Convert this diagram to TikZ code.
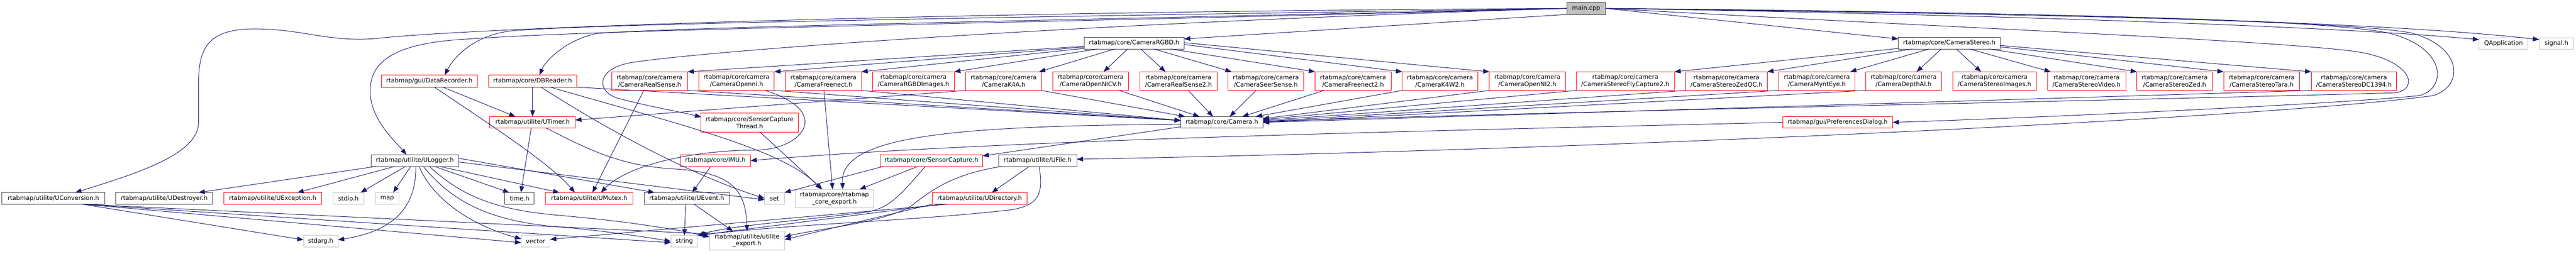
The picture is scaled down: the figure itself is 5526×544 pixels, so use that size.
\documentclass[tikz,border=0pt]{standalone}
\usepackage{fontspec}
\setmainfont{DejaVu Sans}
\usetikzlibrary{arrows.meta,calc}
\definecolor{edgec}{HTML}{191970}
\definecolor{redc}{HTML}{FF0000}
\definecolor{darkc}{HTML}{404040}
\definecolor{lightc}{HTML}{BFBFBF}
\newcommand\bx[7]{\node[#6, minimum width={(#4-#2)*0.75pt}, minimum height={(#5-#3)*0.75pt}] (#1) at ({(#2+#4)/2},{(#3+#5)/2}) {#7};}
\begin{document}
\begin{tikzpicture}[x=0.75pt,y=-0.75pt,
  base/.style={draw, rectangle, inner sep=0pt, outer sep=0pt, align=center, font=\fontsize{9.75}{11.1}\selectfont, line width=0.8pt},
  redbox/.style={base, draw=redc},
  darkbox/.style={base, draw=darkc},
  extbox/.style={base, draw=lightc},
  mainbox/.style={base, draw=darkc, fill=lightc},
  edge/.style={draw=edgec, line width=0.8pt, -{Triangle[length=10pt,width=7.5pt]}}]
\useasboundingbox (0,0) rectangle (5526,544);
% nodes
\bx{main}{3361}{5}{3444}{31}{mainbox}{main.cpp}
\bx{rgbd}{2326}{80}{2540}{105}{darkbox}{rtabmap/core/CameraRGBD.h}
\bx{stereo}{4072}{80}{4291}{105}{darkbox}{rtabmap/core/CameraStereo.h}
\bx{qapp}{5318}{81}{5423}{105}{extbox}{QApplication}
\bx{signal}{5447}{81}{5521}{105}{extbox}{signal.h}
\bx{datarec}{818}{161}{1024}{187}{redbox}{rtabmap/gui/DataRecorder.h}
\bx{dbreader}{1048}{161}{1237}{187}{redbox}{rtabmap/core/DBReader.h}
\bx{rs}{1312}{154}{1475}{194}{redbox}{rtabmap/core/camera\\/CameraRealSense.h}
\bx{openni}{1499}{154}{1661}{194}{redbox}{rtabmap/core/camera\\/CameraOpenni.h}
\bx{freenect}{1685}{154}{1848}{194}{redbox}{rtabmap/core/camera\\/CameraFreenect.h}
\bx{rgbdimg}{1872}{154}{2047}{194}{redbox}{rtabmap/core/camera\\/CameraRGBDImages.h}
\bx{k4a}{2072}{154}{2234}{194}{redbox}{rtabmap/core/camera\\/CameraK4A.h}
\bx{opennicv}{2258}{154}{2421}{194}{redbox}{rtabmap/core/camera\\/CameraOpenNICV.h}
\bx{rs2}{2445}{154}{2611}{194}{redbox}{rtabmap/core/camera\\/CameraRealSense2.h}
\bx{seer}{2634}{154}{2797}{194}{redbox}{rtabmap/core/camera\\/CameraSeerSense.h}
\bx{freenect2}{2821}{154}{2984}{194}{redbox}{rtabmap/core/camera\\/CameraFreenect2.h}
\bx{k4w2}{3008}{154}{3170}{194}{redbox}{rtabmap/core/camera\\/CameraK4W2.h}
\bx{openni2}{3195}{154}{3358}{194}{redbox}{rtabmap/core/camera\\/CameraOpenNI2.h}
\bx{fly}{3381}{154}{3592}{194}{redbox}{rtabmap/core/camera\\/CameraStereoFlyCapture2.h}
\bx{zedoc}{3616}{154}{3791}{194}{redbox}{rtabmap/core/camera\\/CameraStereoZedOC.h}
\bx{mynt}{3816}{154}{3979}{194}{redbox}{rtabmap/core/camera\\/CameraMyntEye.h}
\bx{depthai}{4002}{154}{4165}{194}{redbox}{rtabmap/core/camera\\/CameraDepthAI.h}
\bx{stimg}{4189}{154}{4368}{194}{redbox}{rtabmap/core/camera\\/CameraStereoImages.h}
\bx{stvid}{4392}{154}{4560}{194}{redbox}{rtabmap/core/camera\\/CameraStereoVideo.h}
\bx{stzed}{4584}{154}{4746}{194}{redbox}{rtabmap/core/camera\\/CameraStereoZed.h}
\bx{tara}{4770}{154}{4933}{194}{redbox}{rtabmap/core/camera\\/CameraStereoTara.h}
\bx{dc1394}{4958}{154}{5141}{194}{redbox}{rtabmap/core/camera\\/CameraStereoDC1394.h}
\bx{utimer}{1051}{250}{1234}{275}{redbox}{rtabmap/utilite/UTimer.h}
\bx{sct}{1504}{243}{1712}{283}{redbox}{rtabmap/core/SensorCapture\\Thread.h}
\bx{camera}{2533}{250}{2709}{275}{darkbox}{rtabmap/core/Camera.h}
\bx{prefs}{3824}{250}{4060}{275}{redbox}{rtabmap/gui/PreferencesDialog.h}
\bx{ulogger}{796}{332}{984}{357}{darkbox}{rtabmap/utilite/ULogger.h}
\bx{imu}{1459}{332}{1610}{357}{redbox}{rtabmap/core/IMU.h}
\bx{sensorcap}{1888}{332}{2108}{357}{redbox}{rtabmap/core/SensorCapture.h}
\bx{ufile}{2142}{332}{2310}{357}{darkbox}{rtabmap/utilite/UFile.h}
\bx{uconv}{4}{413}{225}{438}{darkbox}{rtabmap/utilite/UConversion.h}
\bx{udestroyer}{248}{413}{456}{438}{darkbox}{rtabmap/utilite/UDestroyer.h}
\bx{uexception}{480}{413}{690}{438}{redbox}{rtabmap/utilite/UException.h}
\bx{nstdio}{714}{413}{781}{438}{extbox}{stdio.h}
\bx{nmap}{805}{413}{856}{438}{extbox}{map}
\bx{ntime}{1083}{413}{1146}{438}{darkbox}{time.h}
\bx{umutex}{1170}{413}{1358}{438}{redbox}{rtabmap/utilite/UMutex.h}
\bx{uevent}{1382}{413}{1564}{438}{darkbox}{rtabmap/utilite/UEvent.h}
\bx{nset}{1640}{413}{1683}{438}{extbox}{set}
\bx{coreexp}{1706}{406}{1874}{446}{extbox}{rtabmap/core/rtabmap\\\_core\_export.h}
\bx{udir}{2000}{413}{2203}{438}{redbox}{rtabmap/utilite/UDirectory.h}
\bx{stdarg}{651}{505}{725}{530}{extbox}{stdarg.h}
\bx{nvector}{1118}{505}{1180}{530}{extbox}{vector}
\bx{nstring}{1439}{505}{1497}{530}{extbox}{string}
\bx{utilexp}{1522}{496}{1683}{536}{extbox}{rtabmap/utilite/utilite\\\_export.h}
% main edges
\draw[edge] (main.west) .. controls (2000,25) and (1000,60) .. (803,83) .. controls (700,90) and (650,62) .. (545,62) .. controls (440,62) and (426,110) .. (426,180) -- (426,262) .. controls (426,330) and (300,370) .. ($(uconv.north)+(47,0)$);
\draw[edge] (main.west) .. controls (2200,36) and (1300,50) .. (1100,66) .. controls (1020,74) and (975,120) .. ($(datarec.north)+(33,0)$);
\draw[edge] (main.west) .. controls (2200,45) and (1450,58) .. (1280,72) .. controls (1215,85) and (1170,130) .. ($(dbreader.north)+(15,0)$);
\draw[edge] (main.west) .. controls (2200,50) and (1300,62) .. (1000,84) .. controls (850,92) and (794,130) .. (794,195) .. controls (794,255) and (845,300) .. ($(ulogger.north)+(-18,0)$);
\draw[edge] (main.west) .. controls (2300,50) and (1500,110) .. (1350,135) .. controls (1275,150) and (1280,200) .. (1330,212) .. controls (1400,230) and (1460,240) .. ($(sct.west)+(0,-12)$);
\draw[edge] (main.south west) -- ($(rgbd.east)+(0,-9)$);
\draw[edge] (main.east) -- ($(stereo.west)+(0,-9)$);
\draw[edge] (main.east) .. controls (4200,30) and (5000,55) .. ($(qapp.west)+(0,-8)$);
\draw[edge] (main.east) .. controls (4300,25) and (5100,45) .. ($(signal.west)+(0,-8)$);
\draw[edge] (main.east) .. controls (4200,60) and (4850,85) .. (5050,110) .. controls (5175,128) and (5190,190) .. (5140,199) .. controls (4700,212) and (3300,240) .. ($(camera.east)+(0,-2)$);
\draw[edge] (main.east) .. controls (4300,28) and (4950,38) .. (5120,70) .. controls (5250,100) and (5250,190) .. (5190,205) .. controls (5000,225) and (4300,255) .. (prefs.east);
\draw[edge] (main.east) .. controls (4300,30) and (5000,42) .. (5170,70) .. controls (5285,100) and (5285,185) .. (5220,205) .. controls (4900,250) and (3500,320) .. ($(ufile.east)+(0,-3)$);
% CameraRGBD fan
\draw[edge] (rgbd) -- (rs.north east);
\draw[edge] (rgbd) -- (openni.north east);
\draw[edge] (rgbd) -- (freenect.north east);
\draw[edge] (rgbd) -- (rgbdimg.north east);
\draw[edge] (rgbd) -- ($(k4a.north east)+(-5,0)$);
\draw[edge] ($(rgbd.south)+(-14,0)$) -- ($(opennicv.north)+(28,0)$);
\draw[edge] ($(rgbd.south)+(14,0)$) -- ($(rs2.north)+(-28,0)$);
\draw[edge] ($(rgbd.south)+(42,0)$) -- ($(seer.north west)+(8,0)$);
\draw[edge] ($(rgbd.south east)+(-29,0)$) -- (freenect2.north west);
\draw[edge] ($(rgbd.east)+(0,3)$) -- (k4w2.north west);
\draw[edge] ($(rgbd.east)+(0,-1)$) -- (openni2.north west);
% CameraStereo fan
\draw[edge] (stereo) -- (fly.north east);
\draw[edge] (stereo) -- (zedoc.north east);
\draw[edge] (stereo) -- ($(mynt.north east)+(-10,0)$);
\draw[edge] ($(stereo.south)+(-17,0)$) -- ($(depthai.north)+(28,0)$);
\draw[edge] ($(stereo.south)+(15,0)$) -- ($(stimg.north)+(-29,0)$);
\draw[edge] ($(stereo.south east)+(-66,0)$) -- ($(stvid.north west)+(7,0)$);
\draw[edge] ($(stereo.south east)+(-24,0)$) -- (stzed.north west);
\draw[edge] ($(stereo.east)+(0,8)$) -- (tara.north west);
\draw[edge] ($(stereo.east)+(0,5)$) -- (dc1394.north west);
% cameras to Camera.h
\draw[edge] (rs.south east) -- ($(camera.west)+(0,-4)$);
\draw[edge] (openni.south east) -- ($(camera.west)+(0,-4)$);
\draw[edge] (freenect.south east) -- ($(camera.west)+(0,-4)$);
\draw[edge] (dbreader.south east) -- ($(camera.west)+(0,-4)$);
\draw[edge] (k4a.south east) -- ($(camera.north west)+(9,0)$);
\draw[edge] ($(opennicv.south)+(61,0)$) -- ($(camera.north west)+(40,0)$);
\draw[edge] ($(rs2.south)+(21,0)$) -- ($(camera.north)+(-19,0)$);
\draw[edge] ($(seer.south)+(-21,0)$) -- ($(camera.north)+(17,0)$);
\draw[edge] ($(freenect2.south west)+(19,0)$) -- ($(camera.north east)+(-44,0)$);
\draw[edge] (k4w2.south west) -- ($(camera.north east)+(-15,0)$);
\draw[edge] (openni2.south west) -- ($(camera.east)+(0,-8)$);
\draw[edge] (fly.south west) -- ($(camera.east)+(0,-6)$);
\draw[edge] (zedoc.south west) -- ($(camera.east)+(0,-4)$);
\draw[edge] (mynt.south west) -- ($(camera.east)+(0,-2)$);
\draw[edge] (depthai.south west) -- (camera.east);
\draw[edge] (dc1394.south west) -- (camera.east);
% other camera edges
\draw[edge] ($(rs.south west)+(69,0)$) -- ($(umutex.north)+(7,0)$);
\draw[edge] ($(openni.south)+(61,0)$) .. controls (1790,240) and (1720,322) .. (1620,322) .. controls (1500,322) and (1350,350) .. ($(umutex.north)+(25,0)$);
\draw[edge] ($(freenect.south)+(1,0)$) -- ($(coreexp.north)+(-4,0)$);
\draw[edge] (k4a.south west) -- ($(utimer.east)+(0,-5)$);
\draw[edge] ($(sct.south)+(22,0)$) -- ($(coreexp.north)+(-26,0)$);
% DataRecorder, DBReader
\draw[edge] ($(datarec.south)+(29,0)$) -- ($(utimer.north)+(-37,0)$);
\draw[edge] ($(datarec.south)+(11,0)$) .. controls (1040,260) and (1180,350) .. ($(umutex.north)+(-31,0)$);
\draw[edge] (dbreader.south) -- (utimer.north);
\draw[edge] ($(dbreader.south)+(18,0)$) .. controls (1400,340) and (1560,400) .. (nset.west);
\draw[edge] ($(dbreader.south)+(38,0)$) .. controls (1450,265) and (1680,320) .. ($(coreexp.north)+(-28,0)$);
% ULogger
\draw[edge] ($(ulogger.south west)+(11,0)$) -- ($(udestroyer.north)+(74,0)$);
\draw[edge] ($(ulogger.south west)+(51,0)$) -- ($(uexception.north)+(53,0)$);
\draw[edge] ($(ulogger.south)+(-20,0)$) -- ($(nstdio.north)+(26,0)$);
\draw[edge] ($(ulogger.south)+(-9,0)$) -- ($(nmap.north)+(13,0)$);
\draw[edge] ($(ulogger.south)+(2,0)$) .. controls (893,440) and (850,495) .. ($(stdarg.east)+(0,-3)$);
\draw[edge] ($(ulogger.south)+(9,0)$) .. controls (925,420) and (1000,480) .. ($(nvector.west)+(0,-5)$);
\draw[edge] ($(ulogger.south)+(18,0)$) .. controls (960,420) and (1030,470) .. (1180,485) .. controls (1300,495) and (1380,508) .. (nstring.west);
\draw[edge] ($(ulogger.south)+(31,0)$) .. controls (990,420) and (1060,450) .. (1200,462) .. controls (1350,475) and (1450,492) .. ($(utilexp.west)+(0,-8)$);
\draw[edge] ($(ulogger.south)+(42,0)$) -- ($(ntime.north)+(-22,0)$);
\draw[edge] ($(ulogger.south)+(53,0)$) -- ($(umutex.north)+(-64,0)$);
\draw[edge] ($(ulogger.east)+(0,-5)$) -- ($(uevent.north west)+(22,0)$);
\draw[edge] ($(ulogger.east)+(0,3)$) -- ($(nset.west)+(0,3)$);
% UConversion
\draw[edge] ($(uconv.south)+(62,0)$) -- ($(stdarg.west)+(0,-3)$);
\draw[edge] ($(uconv.south)+(62,0)$) -- ($(nvector.west)+(0,3)$);
\draw[edge] ($(uconv.south)+(62,0)$) -- ($(nstring.west)+(0,3)$);
\draw[edge] ($(uconv.south)+(62,0)$) -- ($(utilexp.west)+(0,-14)$);
% UTimer, UEvent, IMU
\draw[edge] ($(utimer.south)+(-3,0)$) -- ($(ntime.north)+(3,0)$);
\draw[edge] ($(utimer.south)+(30,0)$) .. controls (1260,320) and (1330,355) .. (1440,362) .. controls (1560,368) and (1600,400) .. (utilexp.north);
\draw[edge] ($(uevent.south)+(-2,0)$) -- (nstring.north);
\draw[edge] ($(uevent.south)+(16,0)$) -- ($(utilexp.north)+(-30,0)$);
\draw[edge] ($(imu.south)+(-10,0)$) -- ($(uevent.north)+(12,0)$);
% Camera.h, SensorCapture
\draw[edge] ($(camera.south west)+(0,-3)$) -- ($(sensorcap.east)+(0,-10)$);
\draw[edge] ($(camera.west)+(0,4)$) .. controls (2050,270) and (1800,290) .. ($(coreexp.north)+(18,0)$);
\draw[edge] ($(sensorcap.south)+(-29,0)$) -- ($(coreexp.north east)+(-30,0)$);
\draw[edge] ($(sensorcap.south west)+(7,0)$) -- (nset.north east);
\draw[edge] ($(sensorcap.south)+(-13,0)$) .. controls (1930,420) and (1910,445) .. (1860,455) .. controls (1700,475) and (1560,485) .. (nstring.north east);
% UFile, UDirectory
\draw[edge] ($(ufile.south)+(-18,0)$) -- ($(udir.north)+(26,0)$);
\draw[edge] ($(ufile.south west)+(7,0)$) .. controls (2030,375) and (1985,420) .. (1950,445) .. controls (1880,480) and (1760,490) .. ($(utilexp.east)+(0,-8)$);
\draw[edge] ($(ufile.south)+(3,0)$) .. controls (2240,420) and (2225,440) .. (2170,450) .. controls (1950,475) and (1700,480) .. (nstring.north east);
\draw[edge] ($(udir.south west)+(20,0)$) -- (nstring.north east);
\draw[edge] ($(udir.south west)+(34,0)$) -- ($(nvector.east)+(0,-4)$);
\draw[edge] (udir.south west) -- ($(utilexp.east)+(0,-2)$);
% PreferencesDialog
\draw[edge] (prefs.west) .. controls (3000,282) and (2150,300) .. (imu.east);
\end{tikzpicture}
\end{document}
